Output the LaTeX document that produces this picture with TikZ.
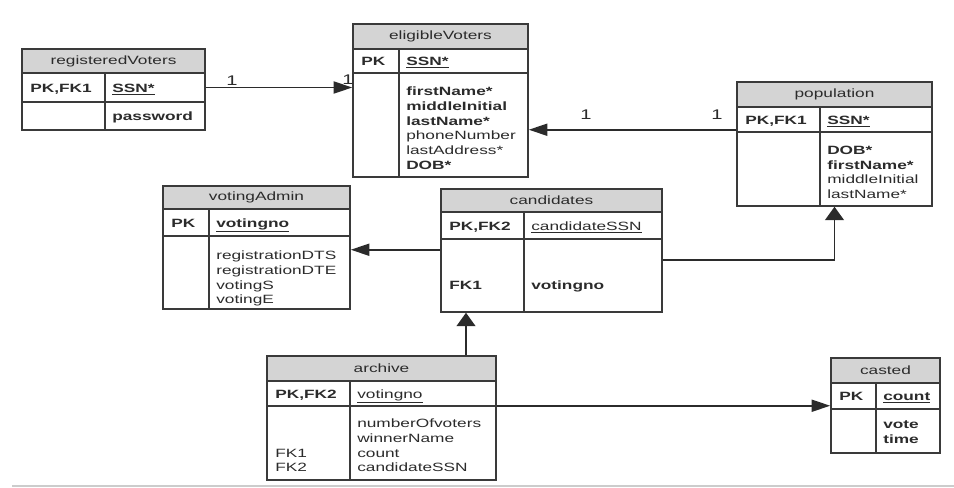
\documentclass[tikz,border=0pt]{standalone}
\usepackage{fontspec}
\setmainfont{Liberation Sans}[FakeStretch=1.44]
\usetikzlibrary{positioning,arrows.meta,fit}
\definecolor{headgray}{HTML}{D4D4D4}
\definecolor{linegray}{HTML}{3A3A3A}
\definecolor{inkgray}{HTML}{2B2B2B}

\begin{document}
\begin{tikzpicture}[x=0.75pt,y=-0.75pt,
  tblbox/.style={draw=linegray, line width=1.1pt, inner sep=0pt},
  tblhead/.style={tblbox, fill=headgray},
  headtxt/.style={inner sep=0pt, text=inkgray, font=\fontsize{9}{11}\selectfont},
  colline/.style={draw=linegray, line width=1.1pt},
  keytxt/.style={anchor=base west, inner sep=0pt, text=inkgray, font=\fontsize{9}{11}\selectfont},
  attrtxt/.style={anchor=north west, inner sep=0pt, align=left, text=inkgray, font=\fontsize{9}{11}\selectfont},
  cardtxt/.style={inner sep=0pt, text=inkgray, font=\fontsize{10.5}{12}\selectfont},
  fkh/.style={draw=inkgray, line width=1.4pt, -{Triangle[length=14pt,width=9pt]}},
  fkv/.style={draw=inkgray, line width=1.4pt, -{Triangle[length=10pt,width=14pt]}}]

  \useasboundingbox (0,0) rectangle (954,487);

  % registeredVoters
  \node[tblbox, fit={(22,49) (205,130)}] (regVoters) {};
  \node[tblhead, fit={(22,49) (205,73)}] (regVotersHead) {};
  \node[headtxt] (regVotersTitle) at (regVotersHead) {registeredVoters};
  \node[tblbox, fit={(22,73) (205,102)}] (regVotersKey) {};
  \draw[colline] (105,73) -- (105,130);
  \node[keytxt] (regVotersPK) at (30,92) {\textbf{PK,FK1}};
  \node[keytxt] (regVotersSSN) at (112,92) {\textbf{\underline{SSN*}}};
  \node[keytxt] (regVotersAttr) at (112,120.5) {\textbf{password}};

  % eligibleVoters
  \node[tblbox, fit={(353,24) (528,177)}] (eligVoters) {};
  \node[tblhead, fit={(353,24) (528,49)}] (eligVotersHead) {};
  \node[headtxt] (eligVotersTitle) at (eligVotersHead) {eligibleVoters};
  \node[tblbox, fit={(353,49) (528,73)}] (eligVotersKey) {};
  \draw[colline] (399,49) -- (399,177);
  \node[keytxt] (eligVotersPK) at (361,65.5) {\textbf{PK}};
  \node[keytxt] (eligVotersSSN) at (406,65.5) {\textbf{\underline{SSN*}}};
  \node[attrtxt] (eligVotersAttr) at (406,86.7)
    {\textbf{firstName*}\\\textbf{middleInitial}\\\textbf{lastName*}\\phoneNumber\\lastAddress*\\\textbf{DOB*}};

  % population
  \node[tblbox, fit={(737,82) (932,206)}] (population) {};
  \node[tblhead, fit={(737,82) (932,107)}] (populationHead) {};
  \node[headtxt] (populationTitle) at (populationHead) {population};
  \node[tblbox, fit={(737,107) (932,132)}] (populationKey) {};
  \draw[colline] (820,107) -- (820,206);
  \node[keytxt] (populationPK) at (745,124) {\textbf{PK,FK1}};
  \node[keytxt] (populationSSN) at (827,124) {\textbf{\underline{SSN*}}};
  \node[attrtxt] (populationAttr) at (827,145.7)
    {\textbf{DOB*}\\\textbf{firstName*}\\middleInitial\\lastName*};

  % votingAdmin
  \node[tblbox, fit={(163,186) (350,309)}] (votingAdmin) {};
  \node[tblhead, fit={(163,186) (350,209)}] (votingAdminHead) {};
  \node[headtxt] (votingAdminTitle) at (votingAdminHead) {votingAdmin};
  \node[tblbox, fit={(163,209) (350,236)}] (votingAdminKey) {};
  \draw[colline] (209,209) -- (209,309);
  \node[keytxt] (votingAdminPK) at (171,227) {\textbf{PK}};
  \node[keytxt] (votingAdminNo) at (216,227) {\textbf{\underline{votingno}}};
  \node[attrtxt] (votingAdminAttr) at (216,250.7)
    {registrationDTS\\registrationDTE\\votingS\\votingE};

  % candidates
  \node[tblbox, fit={(441,189) (662,312)}] (candidates) {};
  \node[tblhead, fit={(441,189) (662,212)}] (candidatesHead) {};
  \node[headtxt] (candidatesTitle) at (candidatesHead) {candidates};
  \node[tblbox, fit={(441,212) (662,239)}] (candidatesKey) {};
  \draw[colline] (524,212) -- (524,312);
  \node[keytxt] (candidatesPK) at (449,230) {\textbf{PK,FK2}};
  \node[keytxt] (candidatesSSN) at (531,230) {\underline{candidateSSN}};
  \node[keytxt] (candidatesFK) at (449,289.5) {\textbf{FK1}};
  \node[keytxt] (candidatesAttr) at (531,289.5) {\textbf{votingno}};

  % archive
  \node[tblbox, fit={(267,356) (496,480)}] (archive) {};
  \node[tblhead, fit={(267,356) (496,381)}] (archiveHead) {};
  \node[headtxt] (archiveTitle) at (archiveHead) {archive};
  \node[tblbox, fit={(267,381) (496,406)}] (archiveKey) {};
  \draw[colline] (350,381) -- (350,480);
  \node[keytxt] (archivePK) at (275,398) {\textbf{PK,FK2}};
  \node[keytxt] (archiveNo) at (357,398) {\underline{votingno}};
  \node[attrtxt] (archiveFK) at (275,448.7) {FK1\\FK2};
  \node[attrtxt] (archiveAttr) at (357,418.7)
    {numberOfvoters\\winnerName\\count\\candidateSSN};

  % casted
  \node[tblbox, fit={(831,358) (940,453)}] (casted) {};
  \node[tblhead, fit={(831,358) (940,383)}] (castedHead) {};
  \node[headtxt] (castedTitle) at (castedHead) {casted};
  \node[tblbox, fit={(831,383) (940,409)}] (castedKey) {};
  \draw[colline] (876,383) -- (876,453);
  \node[keytxt] (castedPK) at (839,400.5) {\textbf{PK}};
  \node[keytxt] (castedCount) at (883,400.5) {\textbf{\underline{count}}};
  \node[attrtxt] (castedAttr) at (883,420.7) {\textbf{vote}\\\textbf{time}};

  % relationships
  \draw[fkh] (regVotersKey.east) -- (regVotersKey.east -| eligVoters.west);
  \node[cardtxt] (regCard) at (232,81) {1};
  \node[cardtxt] (eligCardA) at (348,80) {1};

  \draw[fkh] ([yshift=2.25pt]populationKey.south west) -- ([yshift=2.25pt]populationKey.south west -| eligVoters.east);
  \node[cardtxt] (eligCardB) at (586,115) {1};
  \node[cardtxt] (populationCard) at (717,115) {1};

  \draw[fkh] ([yshift=-7.5pt]candidatesKey.south west) -- ([yshift=-7.5pt]candidatesKey.south west -| votingAdmin.east);
  \draw[fkv] ([yshift=-15pt]candidatesKey.south east) -| (population.south);

  \coordinate (archLink) at (466,0);
  \draw[fkv] (archive.north -| archLink) -- (candidates.south -| archLink);
  \draw[fkh] ([yshift=0.75pt]archiveKey.south east) -- ([yshift=0.75pt]archiveKey.south east -| casted.west);

  % page edge
  \draw[gray!40, line width=1pt] (12,486) -- (954,486);
\end{tikzpicture}
\end{document}
